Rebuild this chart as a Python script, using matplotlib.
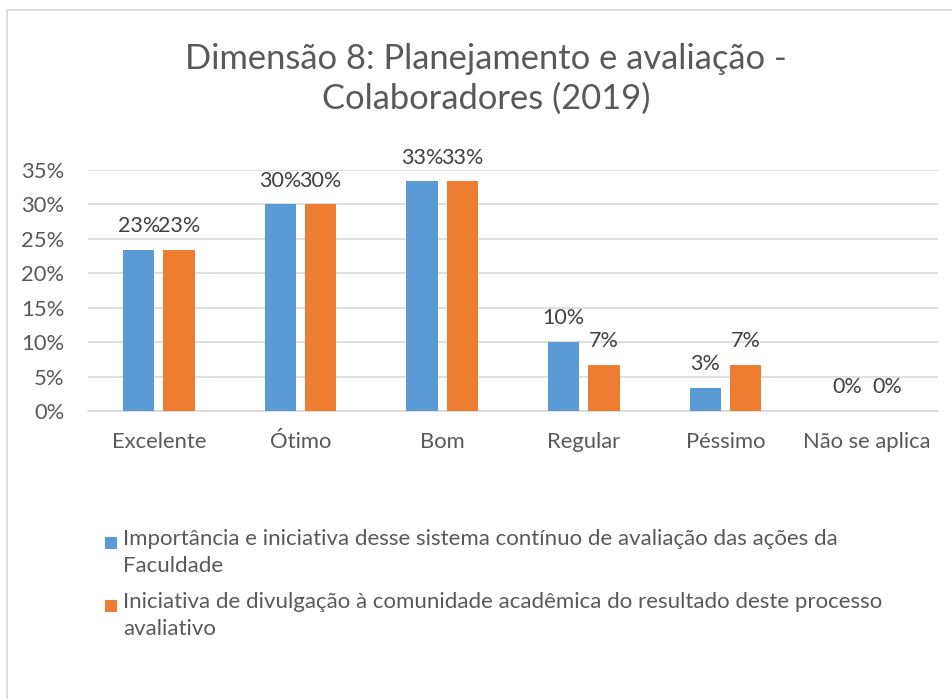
import matplotlib
matplotlib.use("Agg")
import matplotlib.pyplot as plt
from matplotlib.patches import Rectangle
import numpy as np

categories = ["Excelente", "Ótimo", "Bom", "Regular", "Péssimo", "Não se aplica"]
serie1 = [23.33, 30.0, 33.33, 10.0, 3.33, 0.0]
serie2 = [23.33, 30.0, 33.33, 6.67, 6.67, 0.0]
series_names = [
    "Importância e iniciativa desse sistema contínuo de avaliação das ações da\nFaculdade",
    "Iniciativa de divulgação à comunidade acadêmica do resultado deste processo\navaliativo",
]
yticks = [0, 5, 10, 15, 20, 25, 30, 35]
title = "Dimensão 8: Planejamento e avaliação -\nColaboradores (2019)"

FONT = "Lato"
plt.rcParams["font.family"] = [FONT, "DejaVu Sans"]
TXT = "#595959"
C1 = "#5B9BD5"
C2 = "#ED7D31"

W, H = 953, 699
fig = plt.figure(figsize=(W / 100, H / 100), dpi=100)
fig.patch.set_facecolor("white")

# chart border
fig.add_artist(Rectangle((6.5 / W, -0.1), 1.2, 1 - 10.5 / H + 0.1, transform=fig.transFigure,
                         fill=False, edgecolor="#d9d9d9", linewidth=1.2))

ax = fig.add_axes([88 / W, 1 - 411 / H, (938 - 88) / W, (411 - 170) / H])
x = np.arange(len(categories))
bw = 0.22
off = 0.142
b1 = ax.bar(x - off, serie1, bw, color=C1, zorder=3)
b2 = ax.bar(x + off, serie2, bw, color=C2, zorder=3)

for bars, vals in ((b1, serie1), (b2, serie2)):
    for b, v in zip(bars, vals):
        ax.annotate(f"{v:.0f}%", (b.get_x() + b.get_width() / 2, v), xytext=(0, 10),
                    textcoords="offset points", ha="center", va="bottom",
                    fontsize=15.5, color="#404040", clip_on=False)

ax.set_xlim(-0.5, len(categories) - 0.5)
ax.set_ylim(0, 35)
ax.set_yticks(yticks)
ax.set_yticklabels([f"{t}%" for t in yticks])
ax.set_xticks(x)
ax.set_xticklabels(categories)
ax.tick_params(axis="both", length=0, colors=TXT, labelsize=15.8)
ax.tick_params(axis="x", pad=15)
ax.tick_params(axis="y", pad=17)
ax.grid(axis="y", color="#d9d9d9", linewidth=1.2, zorder=0)
for s in ("top", "right", "left"):
    ax.spines[s].set_visible(False)
ax.spines["bottom"].set_color("#d9d9d9")
ax.spines["bottom"].set_linewidth(1.2)

fig.text(486 / W, 1 - 79 / H, title, ha="center", va="center", fontsize=24.8,
         color=TXT, linespacing=1.3)

# legend
for i, (name, col) in enumerate(zip(series_names, (C1, C2))):
    ytop = 543 + i * 63
    fig.add_artist(Rectangle((105 / W, 1 - (ytop + 6) / H), 12 / W, 12 / H,
                             transform=fig.transFigure, facecolor=col, edgecolor="none"))
    fig.text(123 / W, 1 - (ytop - 14) / H, name, ha="left", va="top", fontsize=16,
             color=TXT, linespacing=1.45)

fig.savefig("out.png", dpi=100)
